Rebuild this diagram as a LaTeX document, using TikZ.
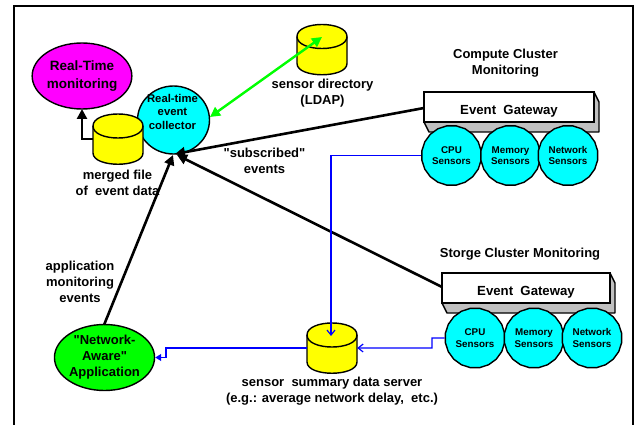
\documentclass[tikz,border=0pt]{standalone}
\usepackage{fontspec}
\setmainfont{Liberation Sans}
\newfontfamily\straightfont{Liberation Sans}
\newcommand{\sq}{{\straightfont"}}
\usetikzlibrary{shapes.geometric,arrows.meta}
\definecolor{cyanfill}{RGB}{0,255,255}
\definecolor{yellowfill}{RGB}{255,255,0}
\definecolor{magentafill}{RGB}{255,0,255}
\definecolor{greenfill}{RGB}{0,255,0}
\definecolor{bluewire}{RGB}{0,0,255}
\definecolor{shadowgray}{RGB}{192,192,192}
\tikzset{
  lab/.style={inner sep=0pt,align=center,font=\bfseries\fontsize{13}{16}\selectfont},
  smalllab/.style={inner sep=0pt,align=center,font=\bfseries\fontsize{11.3}{13.5}\selectfont},
  sensorlab/.style={draw=black,line width=1.4pt,fill=cyanfill,regular polygon,regular polygon sides=20,minimum size=60pt,inner sep=0pt,align=center,font=\bfseries\fontsize{9.8}{11.5}\selectfont},
  blob/.style={draw=black,line width=1.4pt,ellipse,inner sep=0pt,align=center},
  canbox/.style={inner sep=0pt,minimum width=50pt,minimum height=50pt},
  cancyl/.pic={
    \path[draw=black,line width=1.4pt,fill=yellowfill,line join=round]
      (-25,-13) .. controls (-25,-29) and (25,-29) .. (25,-13)
      -- (25,14) .. controls (25,29) and (-25,29) .. (-25,14) -- cycle;
    \draw[line width=1.4pt] (-25,-13) .. controls (-25,3) and (25,3) .. (25,-13);
  },
  gateway/.style={draw=black,line width=1.4pt,fill=white,minimum height=30pt,inner sep=0pt},
  side/.style={draw=black,line width=1.4pt,fill=shadowgray,line join=round},
  heavy/.style={draw=black,line width=2.6pt,-{Triangle[length=10pt,width=10pt]}},
  linkgreen/.style={draw=greenfill,line width=2.4pt,{Triangle[length=10pt,width=10pt]}-{Triangle[length=10pt,width=10pt]}},
  wire/.style={draw=bluewire,line width=1.2pt},
}
\begin{document}
\begin{tikzpicture}[x=1pt,y=-1pt]
\useasboundingbox (0,0) rectangle (634,425);
\draw[line width=2pt] (14,425) -- (14,6.5) -- (633,6.5) -- (633,425);

% gateways
\draw[side] (424,122) -- (429,132) -- (599,132) -- (599,102) -- (594,92) -- (594,122) -- cycle;
\node[gateway,minimum width=170pt] (gw1) at (509,107) {};
\node[lab,font=\bfseries\fontsize{13.2}{16}\selectfont] (gw1t) at (509,111) {Event\ \ Gateway};
\draw[side] (442,303) -- (447,313) -- (615,313) -- (615,283) -- (610,273) -- (610,303) -- cycle;
\node[gateway,minimum width=168pt] (gw2) at (526,288) {};
\node[lab,font=\bfseries\fontsize{13.2}{16}\selectfont] (gw2t) at (526,292) {Event\ \ Gateway};

% sensors
\node[sensorlab] (cpua) at (451.5,155.5) {CPU\\Sensors};
\node[sensorlab] (mema) at (510.5,155.5) {Memory\\Sensors};
\node[sensorlab] (neta) at (568,155.5) {Network\\Sensors};
\node[sensorlab] (cpub) at (475,338) {CPU\\Sensors};
\node[sensorlab] (memb) at (534,338) {Memory\\Sensors};
\node[sensorlab] (netb) at (592,338) {Network\\Sensors};

% main shapes
\node[blob,fill=magentafill,minimum width=98pt,minimum height=66pt,font=\bfseries\fontsize{13.5}{18}\selectfont] (rtm) at (82,76) {Real-Time\\monitoring};
\node[blob,fill=cyanfill,minimum width=72pt,minimum height=68pt] (coll) at (173.5,120) {};
\node[smalllab] (collt) at (172.5,111.5) {Real-time\\event\\collector};
\node[blob,fill=greenfill,minimum width=97pt,minimum height=66pt,font=\bfseries\fontsize{13}{16}\selectfont] (app) at (104.5,357.5) {\sq Network-\\Aware\sq\\Application};
\node[canbox] (merged) at (118,139) {};
\node[canbox] (dir) at (322,49.5) {};
\node[canbox] (summ) at (332,348) {};
\pic at (merged) {cancyl};
\pic at (dir) {cancyl};
\pic at (summ) {cancyl};

\coordinate (dirin) at (322,37);
\coordinate (summin) at (331,336);
\coordinate (collb) at (175,154);
\coordinate (collb2) at (177,155);
\coordinate (gwa) at (424,108);
\coordinate (gwb) at (442,287);
\coordinate (appt) at (104,325);
\coordinate (rtmb) at (82,109);
\coordinate (collr) at (210,117);

% connectors
\draw[heavy] (gwa) -- (collb);
\draw[heavy] (gwb) -- (collb2);
\draw[heavy] (appt) -- (173,155);
\draw[heavy] (merged.west) -| (rtmb);
\draw[linkgreen] (collr) -- (dirin);

\draw[wire,-{Straight Barb[length=5pt,width=8pt]}] (cpua.west) -| (summin);
\draw[wire,-{Straight Barb[length=5pt,width=8pt]}] (cpub.west) -- (432,338) -- (432,348) -- (summ.east);
\draw[wire,-{Triangle[length=6pt,width=7pt]}] (summ.west) -- (166,348) -- (166,357.5) -- (app.east);

% labels
\node[lab] (l1) at (117.5,183) {merged file\\of\ \ event data};
\node[lab] (l2) at (322.5,93) {sensor directory\\(LDAP)};
\node[lab] (l3) at (264.5,161) {\sq subscribed\sq\\events};
\node[lab] (l4) at (505.5,63) {Compute Cluster\\Monitoring};
\node[lab] (l5) at (520,254.5) {Storge Cluster\ Monitoring};
\node[lab] (l6) at (80,282) {application\\monitoring\\events};
\node[lab] (l7) at (332,391) {sensor\ \ summary data server\\(e.g.: average network delay,\ \ etc.)};
\end{tikzpicture}
\end{document}
